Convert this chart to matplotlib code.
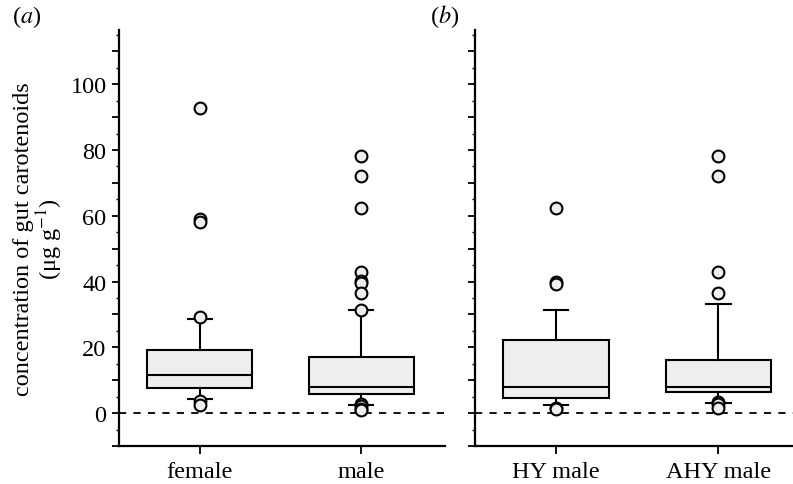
import matplotlib
matplotlib.use("Agg")
import matplotlib.pyplot as plt
from matplotlib.ticker import MultipleLocator, FuncFormatter

plt.rcParams['font.family'] = ['Liberation Serif', 'DejaVu Serif']
plt.rcParams['mathtext.fontset'] = 'stix'

# Panel (a)
cats_a = ["female", "male"]
q1_a = [7.6, 5.8]
med_a = [11.5, 7.9]
q3_a = [19.1, 17.2]
wlo_a = [4.2, 2.5]
whi_a = [28.6, 31.5]
out_a = [
    [92.7, 59.1, 58.2, 29.1, 3.7, 2.5],
    [78.2, 72.1, 62.4, 42.9, 40.1, 39.5, 36.4, 31.5, 2.8, 2.3, 1.3, 0.9],
]

# Panel (b)
cats_b = ["HY male", "AHY male"]
q1_b = [4.5, 6.4]
med_b = [7.9, 7.9]
q3_b = [22.2, 16.0]
wlo_b = [2.5, 3.0]
whi_b = [31.5, 33.3]
out_b = [
    [62.4, 39.9, 39.3, 1.7, 1.1],
    [78.2, 72.1, 43.0, 36.6, 3.5, 2.8, 1.7],
]

W, H = 793, 485
fig = plt.figure(figsize=(W / 100, H / 100), dpi=100)
ax1 = fig.add_axes([119 / W, 1 - 447 / H, (445 - 119) / W, (447 - 31) / H])
ax2 = fig.add_axes([475 / W, 1 - 447 / H, (793 - 475) / W, (447 - 31) / H])

lw = 1.5
face = '#eeeeee'
fs = 17.5


def draw(ax, cats, q1, med, q3, wlo, whi, outs, xmax):
    stats = []
    for i in range(len(cats)):
        stats.append(dict(med=med[i], q1=q1[i], q3=q3[i], whislo=wlo[i],
                          whishi=whi[i], fliers=outs[i], label=cats[i]))
    ax.axhline(0, color='black', lw=1.3, ls=(0, (4, 4)), zorder=1)
    ax.bxp(stats, positions=range(len(cats)), widths=0.65, patch_artist=True,
           showfliers=True,
           boxprops=dict(facecolor=face, edgecolor='black', linewidth=lw),
           medianprops=dict(color='black', linewidth=lw),
           whiskerprops=dict(color='black', linewidth=lw),
           capprops=dict(color='black', linewidth=lw),
           capwidths=0.15,
           flierprops=dict(marker='o', markersize=8.5, markerfacecolor=face,
                           markeredgecolor='black', markeredgewidth=1.5),
           zorder=3)
    ax.set_xlim(-0.5, xmax)
    ax.set_ylim(-10, 116.5)
    ax.spines['top'].set_visible(False)
    ax.spines['right'].set_visible(False)
    for s in ['left', 'bottom']:
        ax.spines[s].set_linewidth(1.6)
    ax.yaxis.set_major_locator(MultipleLocator(10))
    ax.yaxis.set_minor_locator(MultipleLocator(5))
    ax.tick_params(axis='y', which='major', length=5, width=1.3, direction='out', labelsize=fs, pad=4)
    ax.tick_params(axis='y', which='minor', length=2.5, width=1.0, direction='out')
    ax.tick_params(axis='x', which='major', length=6, width=1.3, direction='out', labelsize=fs, pad=5)
    ax.set_xticks(range(len(cats)))
    ax.set_xticklabels(cats)


draw(ax1, cats_a, q1_a, med_a, q3_a, wlo_a, whi_a, out_a, 1.52)
draw(ax2, cats_b, q1_b, med_b, q3_b, wlo_b, whi_b, out_b, 1.46)

ax1.yaxis.set_major_formatter(FuncFormatter(lambda v, p: f"{int(round(v))}" if round(v) % 20 == 0 else ""))
ax2.yaxis.set_major_formatter(FuncFormatter(lambda v, p: ""))

ax1.set_ylabel("concentration of gut carotenoids\n(μg g$^{-1}$)", fontsize=fs, linespacing=1.0, labelpad=4)

fig.text(12 / W, 1 - 17 / H, "($a$)", fontsize=fs, va='center', ha='left')
fig.text(430 / W, 1 - 17 / H, "($b$)", fontsize=fs, va='center', ha='left')

fig.savefig("out.png", dpi=100)
